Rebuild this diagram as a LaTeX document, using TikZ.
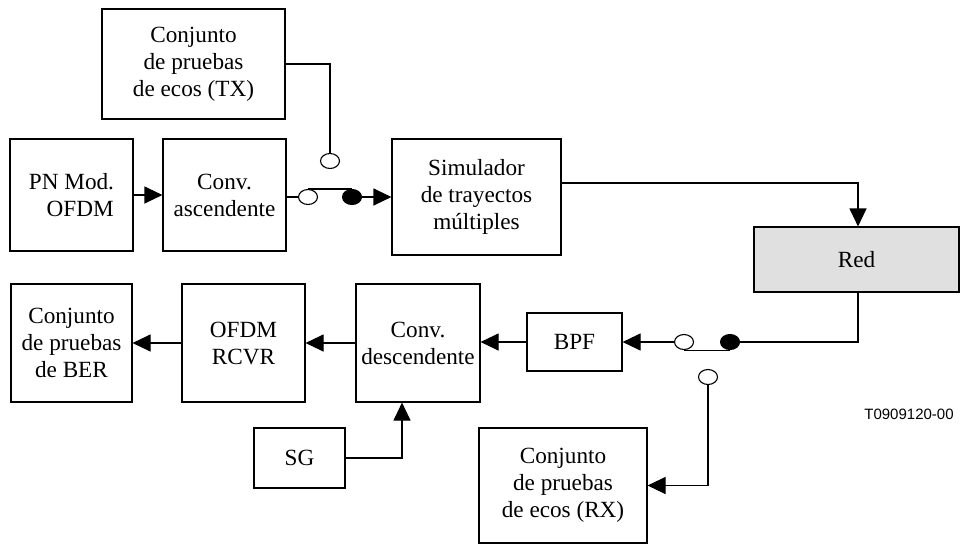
\documentclass[tikz,border=0pt]{standalone}
\usepackage{fontspec}
\setmainfont{Liberation Serif}
\newfontfamily\codefont{Liberation Sans}
\usepackage{tikz}
\usetikzlibrary{positioning, shapes.geometric, arrows.meta, calc}
\definecolor{redgray}{RGB}{224,224,224}

\begin{document}
\begin{tikzpicture}[x=1pt, y=-1pt,
    blk/.style={draw, line width=1.1pt, align=center, inner sep=2pt,
        font=\fontsize{23.2}{27}\selectfont},
    swopen/.style={draw, ellipse, line width=1.1pt, fill=white, inner sep=0pt,
        minimum width=19pt, minimum height=15pt},
    swclosed/.style={swopen, fill=black},
    arr/.style={line width=1.1pt, -{Triangle[length=18pt, width=17pt]}},
    wire/.style={line width=1.1pt}]
\useasboundingbox (0,0) rectangle (961,544);

% transmit side
\node[blk, minimum width=183pt, minimum height=110pt] (tx) at (193.5,64) {Conjunto\\de pruebas\\de ecos (TX)};
\node[blk, minimum width=123pt, minimum height=112pt] (pn) at (71.5,195) {PN Mod.\\\ \ \ OFDM};
\node[blk, minimum width=123pt, minimum height=112pt] (convasc) at (224.5,195) {Conv.\\ascendente};
\node[blk, minimum width=169pt, minimum height=116pt] (sim) at (476.5,197) {Simulador\\de trayectos\\m\'ultiples};

% network
\node[blk, fill=redgray, minimum width=205pt, minimum height=65pt] (red) at (856.5,259.5) {Red};

% receive side
\node[blk, minimum width=121pt, minimum height=118pt] (ber) at (71.5,343) {Conjunto\\de pruebas\\de BER};
\node[blk, minimum width=123pt, minimum height=118pt] (rcvr) at (243.5,343) {OFDM\\RCVR};
\node[blk, minimum width=124pt, minimum height=118pt] (convdesc) at (418,343) {Conv.\\descendente};
\node[blk, minimum width=95pt, minimum height=58pt] (bpf) at (574.5,342) {BPF};
\node[blk, minimum width=91pt, minimum height=60pt] (sg) at (299.5,458) {SG};
\node[blk, minimum width=168pt, minimum height=115pt] (rx) at (563,485.5) {Conjunto\\de pruebas\\de ecos (RX)};

% switches
\node[swopen] (swa) at (308,197) {};
\node[swclosed] (swb) at (352,197) {};
\node[swopen] (swc) at (330,161) {};
\node[swopen] (swd) at (684,342) {};
\node[swclosed] (swe) at (730,342) {};
\node[swopen] (swf) at (708,377) {};

% figure code
\node[font=\codefont\fontsize{15}{18}\selectfont] (code) at (909,414) {T0909120-00};

% upper chain
\draw[arr] (pn) -- (convasc);
\draw[wire] (swa.west) -- (swa.west -| convasc.east);
\draw[wire] (swa.north) -- (swb.north);
\draw[arr] (swb.east) -- (swb.east -| sim.west);
\draw[wire] (tx.east) -| (swc.north);
\draw[arr] ([yshift=14pt]sim.east) -| ([xshift=1.5pt]red.north);

% lower chain
\draw[wire] (swe.east) -| ([xshift=1.5pt]red.south);
\draw[wire] (swd.south) -- (swe.south);
\draw[arr] (swd.west) -- (swd.west -| bpf.east);
\draw[arr] (swf.south) |- (rx.east);
\draw[arr] (bpf.west) -- (bpf.west -| convdesc.east);
\draw[arr] (convdesc) -- (rcvr);
\draw[arr] (rcvr) -- (ber);
\draw[arr] (sg.east) -| ([xshift=-16pt]convdesc.south);
\end{tikzpicture}
\end{document}
